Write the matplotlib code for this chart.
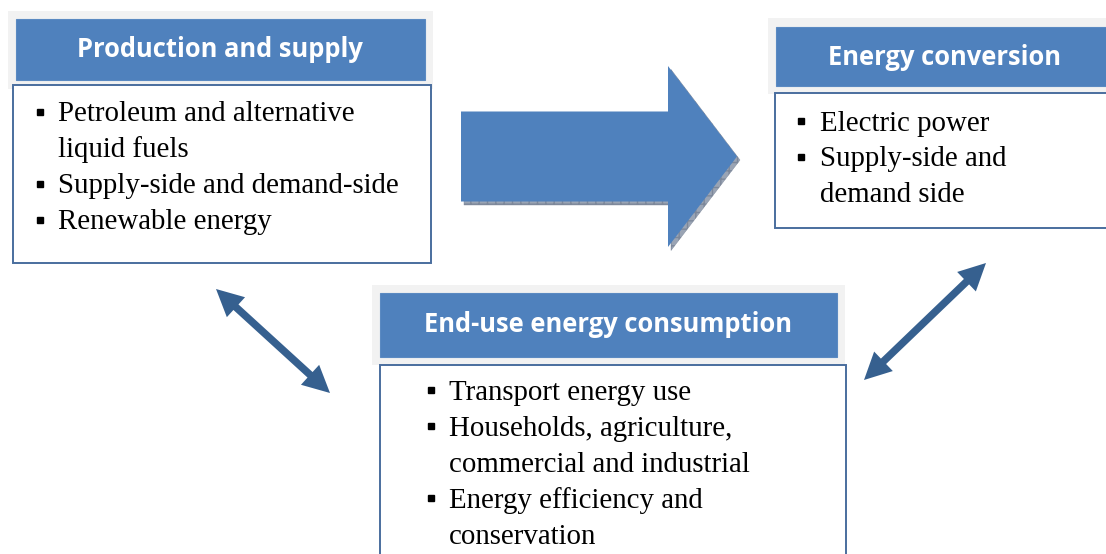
import numpy as np
import matplotlib
matplotlib.use("Agg")
import matplotlib.pyplot as plt
from matplotlib.patches import Rectangle, FancyArrow, Polygon

# ---- content ----
titles = ["Production and supply", "Energy conversion", "End-use energy consumption"]
box1_lines = [("Petroleum and alternative", True), ("liquid fuels", False),
              ("Supply-side and demand-side", True), ("Renewable energy", True)]
box2_lines = [("Electric power", True), ("Supply-side and", True), ("demand side", False)]
box3_lines = [("Transport energy use", True), ("Households, agriculture,", True),
              ("commercial and industrial", False), ("Energy efficiency and", True),
              ("conservation", False)]

BLUE = "#4F81BD"
BORDER = "#4A6E9E"
GRAY = "#F2F2F2"
DARK = "#36608F"
TITLE_FONT = "Open Sans"
BODY_FONT = "Liberation Serif"

W, H = 1106, 554
fig = plt.figure(figsize=(W / 100, H / 100), dpi=100)
ax = fig.add_axes([0, 0, 1, 1])
ax.set_xlim(0, W)
ax.set_ylim(H, 0)
ax.axis("off")


def panel(gray, header, body, title, title_xy, lines, bullet_x, text_x, bullet_y0, base_y0, step):
    gx, gy, gw, gh = gray
    ax.add_patch(Rectangle((gx, gy), gw, gh, facecolor=GRAY, edgecolor="none", zorder=1))
    hx, hy, hw, hh = header
    ax.add_patch(Rectangle((hx, hy), hw, hh, facecolor=BLUE, edgecolor="#5B8AC2", lw=0.8, zorder=2))
    bx, by, bw, bh = body
    ax.add_patch(Rectangle((bx, by), bw, bh, facecolor="white", edgecolor=BORDER, lw=1.4, zorder=3))
    ax.text(title_xy[0], title_xy[1], title, color="white", fontsize=18.4, fontweight="bold",
            family=TITLE_FONT, ha="center", va="baseline", zorder=4)
    for i, (txt, bullet) in enumerate(lines):
        if bullet:
            ax.plot([bullet_x], [bullet_y0 + i * step], marker="s", ms=4.8, color="black",
                    zorder=5, clip_on=False)
        ax.text(text_x, base_y0 + i * step, txt, fontsize=20.8, family=BODY_FONT,
                color="black", ha="left", va="baseline", zorder=5)


# Box 1
panel((8, 11, 425, 78), (16, 19, 409, 61), (13, 85, 418, 178), titles[0], (220, 57),
      box1_lines, 40, 58, 112, 121, 36)
# Box 2
panel((768, 18, 345, 76), (776, 27, 340, 59), (775, 93, 340, 135), titles[1], (944, 65),
      box2_lines, 801, 820, 121, 131, 35.5)
# Box 3
panel((372, 285, 473, 80), (380, 293, 457, 64), (380, 365, 466, 200), titles[2], (608, 332),
      box3_lines, 431, 449, 390, 400, 36)

# Big arrow with shadow
ax.add_patch(FancyArrow(464, 160, 276, 0, width=90, head_width=181, head_length=69,
                        length_includes_head=True, facecolor="#9AA4B4", edgecolor="#7D889A",
                        lw=0.3, hatch="++", zorder=1.5))
ax.add_patch(FancyArrow(461, 156.5, 276, 0, width=90, head_width=181, head_length=69,
                        length_includes_head=True, facecolor=BLUE, edgecolor="none", zorder=2))


def double_arrow(p0, p1, shaft_w=7.5, head_w=27, head_l=27):
    p0 = np.array(p0, float)
    p1 = np.array(p1, float)
    d = p1 - p0
    L = np.hypot(*d)
    u = d / L
    n = np.array([-u[1], u[0]])
    a = p0 + u * head_l
    b = p1 - u * head_l
    pts = [p0, a + n * head_w / 2, a + n * shaft_w / 2, b + n * shaft_w / 2,
           b + n * head_w / 2, p1, b - n * head_w / 2, b - n * shaft_w / 2,
           a - n * shaft_w / 2, a - n * head_w / 2]
    ax.add_patch(Polygon(pts, closed=True, facecolor=DARK, edgecolor="none", zorder=4))


double_arrow((216, 289), (330, 393))
double_arrow((986, 263), (864, 380))

fig.savefig("out.png", dpi=100)
